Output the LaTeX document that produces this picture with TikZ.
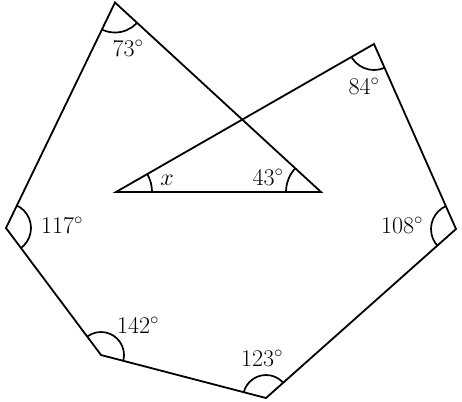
\RequirePackage{fix-cm}
\documentclass[tikz,border=0pt]{standalone}
\usetikzlibrary{calc}
\newcommand\angarc[4]{%
  \begin{scope}
    \clip (#1) -- ($(#1)!6!(#2)$) -- ($(#1)!6!(#3)$) -- cycle;
    \draw[arcline] (#1) circle[radius=#4];
  \end{scope}}
\begin{document}
\begin{tikzpicture}[x=1pt,y=-1pt,line width=1.8pt,line join=miter,
  arcline/.style={line width=1.7pt},
  lbl/.style={inner sep=0pt,font=\fontsize{24}{28}\selectfont}]
\useasboundingbox (0,0) rectangle (462,401);
\coordinate (A) at (115,2.5);
\coordinate (B) at (374,44);
\coordinate (C) at (456,229);
\coordinate (D) at (266,398);
\coordinate (E) at (101,355);
\coordinate (F) at (6,228);
\coordinate (G) at (116,192);
\coordinate (H) at (321,192);
\draw (F) -- (A) -- (H) -- (G) -- (B) -- (C) -- (D) -- (E) -- cycle;
\angarc{A}{F}{H}{30}
\angarc{B}{G}{C}{26}
\angarc{H}{A}{G}{35}
\angarc{G}{H}{B}{36}
\angarc{F}{A}{E}{25}
\angarc{E}{F}{D}{23}
\angarc{C}{B}{D}{25}
\angarc{D}{C}{E}{23}
\node[lbl] (l73) at (128,48) {$73^\circ$};
\node[lbl] (l84) at (364,86) {$84^\circ$};
\node[lbl] (l43) at (268,177) {$43^\circ$};
\node[lbl] (lx) at (167,180) {$x$};
\node[lbl] (l117) at (62,225) {$117^\circ$};
\node[lbl] (l142) at (138,325) {$142^\circ$};
\node[lbl] (l108) at (402,225) {$108^\circ$};
\node[lbl] (l123) at (262,358) {$123^\circ$};
\end{tikzpicture}
\end{document}
